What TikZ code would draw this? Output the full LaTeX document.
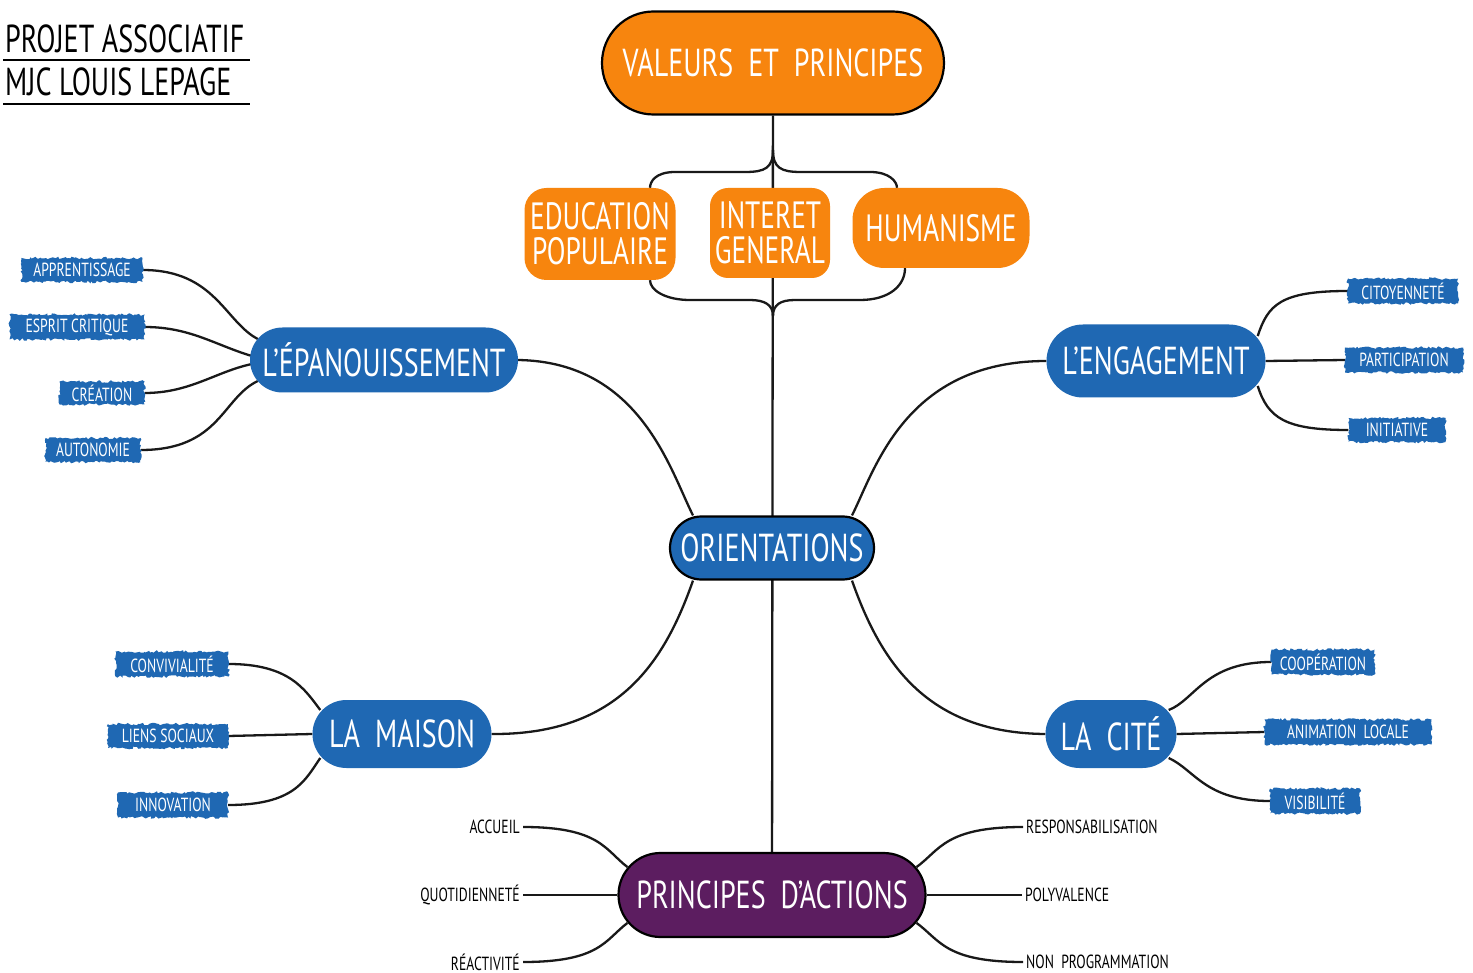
\documentclass[tikz,border=0pt]{standalone}
\usepackage{fontspec}
\setmainfont{PT Sans}[FakeStretch=0.72]
\usetikzlibrary{shapes.misc,decorations.pathmorphing,backgrounds,calc}
\pgfdeclarelayer{lines}
\pgfsetlayers{background,lines,main}
\definecolor{mjorange}{RGB}{247,133,14}
\definecolor{mjblue}{RGB}{31,104,179}
\definecolor{mjpurple}{RGB}{92,29,96}
\tikzset{
  bigtxt/.style={font=\fontsize{39}{40}\selectfont},
  mainblob/.style={rounded rectangle, fill=mjblue, text=white, inner sep=0pt, bigtxt},
  bordered/.style={draw=black, line width=2.2pt},
  orangebox/.style={rectangle, rounded corners=22pt, fill=mjorange, text=white, inner sep=0pt, align=center, font=\fontsize{38}{35}\selectfont},
  leaf/.style={rectangle, fill=mjblue, text=white, inner sep=0pt, font=\fontsize{19}{19}\selectfont, decorate, decoration={random steps, segment length=2pt, amplitude=1.3pt}},
  plainlbl/.style={text=black, font=\fontsize{19}{19}\selectfont, inner sep=3pt},
  titletxt/.style={text=black, font=\fontsize{39}{39}\selectfont, inner sep=0pt},
  link/.style={draw=black!90, line width=2.3pt},
}
\begin{document}
\begin{tikzpicture}[x=1pt,y=-1pt]
\pgfmathsetseed{7}
\begin{pgfonlayer}{background}
\fill[white] (0,0) rectangle (1473,973);
\end{pgfonlayer}
\useasboundingbox (0,0) rectangle (1473,973);

% title
\node[titletxt, anchor=base west] (t1) at (5,53) {PROJET\ ASSOCIATIF};
\node[titletxt, anchor=base west] (t2) at (5,96) {MJC\ LOUIS\ LEPAGE};
\coordinate (u1a) at (3,60); \coordinate (u1b) at (250,60);
\coordinate (u2a) at (3,104); \coordinate (u2b) at (250,104);
\draw[line width=2pt] (u1a) -- (u1b);
\draw[line width=2pt] (u2a) -- (u2b);

% main nodes
\node[rounded rectangle, fill=mjorange, text=white, bordered, inner sep=0pt,
      minimum width=342pt, minimum height=103pt, bigtxt] (val) at (773,63) {VALEURS\ \ ET\ \ PRINCIPES};
\node[orangebox, minimum width=151pt, minimum height=92pt] (edu) at (600,234) {EDUCATION\\POPULAIRE};
\node[orangebox, minimum width=120pt, minimum height=90pt, rounded corners=18pt] (int) at (770,233) {INTERET\\GENERAL};
\node[orangebox, minimum width=177pt, minimum height=80pt, rounded corners=32pt] (hum) at (941,228) {HUMANISME};

\node[mainblob, bordered, minimum width=204pt, minimum height=63pt] (ori) at (772,548) {ORIENTATIONS};
\node[mainblob, minimum width=268pt, minimum height=65pt] (epa) at (384,360) {L’ÉPANOUISSEMENT};
\node[mainblob, minimum width=219pt, minimum height=73pt] (eng) at (1156,361) {L’ENGAGEMENT};
\node[mainblob, minimum width=179pt, minimum height=68pt] (mai) at (402,734) {LA\ \ MAISON};
\node[mainblob, minimum width=131pt, minimum height=68pt] (cit) at (1111,734) {LA\ \ CITÉ};
\node[mainblob, fill=mjpurple, bordered, minimum width=307pt, minimum height=84pt] (pa) at (772,895) {PRINCIPES\ \ D’ACTIONS};

% leaves
\node[leaf, minimum width=121pt, minimum height=24pt] (appr) at (82,270) {APPRENTISSAGE};
\node[leaf, minimum width=135pt, minimum height=25pt] (esp) at (77,327) {ESPRIT\ CRITIQUE};
\node[leaf, minimum width=85pt, minimum height=23pt] (cre) at (102,393) {CRÉATION};
\node[leaf, minimum width=95pt, minimum height=24pt] (aut) at (93,450) {AUTONOMIE};

\node[leaf, minimum width=110pt, minimum height=25pt] (cito) at (1403,291) {CITOYENNETÉ};
\node[leaf, minimum width=118pt, minimum height=25pt] (part) at (1404,360) {PARTICIPATION};
\node[leaf, minimum width=97pt, minimum height=24pt] (init) at (1397,430) {INITIATIVE};

\node[leaf, minimum width=113pt, minimum height=25pt] (conv) at (172,664) {CONVIVIALITÉ};
\node[leaf, minimum width=120pt, minimum height=24pt] (lien) at (168,736) {LIENS\ SOCIAUX};
\node[leaf, minimum width=110pt, minimum height=25pt] (inno) at (173,805) {INNOVATION};

\node[leaf, minimum width=103pt, minimum height=25pt] (coop) at (1323,662) {COOPÉRATION};
\node[leaf, minimum width=167pt, minimum height=25pt] (anim) at (1348,732) {ANIMATION\ \ LOCALE};
\node[leaf, minimum width=90pt, minimum height=25pt] (vis) at (1315,801) {VISIBILITÉ};

\node[plainlbl, anchor=east] (acc) at (523,827) {ACCUEIL};
\node[plainlbl, anchor=east] (quo) at (523,895) {QUOTIDIENNETÉ};
\node[plainlbl, anchor=east] (rea) at (523,962) {RÉACTIVITÉ};
\node[plainlbl, anchor=west] (resp) at (1023,827) {RESPONSABILISATION};
\node[plainlbl, anchor=west] (poly) at (1022,895) {POLYVALENCE};
\node[plainlbl, anchor=west] (non) at (1023,962) {NON\ \ PROGRAMMATION};

\coordinate (split) at (773,150);
\coordinate (merge) at (773,316);

\begin{pgfonlayer}{lines}
  % trunk
  \draw[link] (val) -- (pa);
  % brace
  \draw[link] (split) .. controls (773,168) and (765,172) .. (745,172) -- (675,172)
        .. controls (655,172) and (650,182) .. (edu.north -| 650,0);
  \draw[link] (split) .. controls (773,168) and (781,172) .. (801,172) -- (870,172)
        .. controls (890,172) and (897,182) .. (hum.north -| 897,0);
  \draw[link] (edu.south -| 650,0) .. controls (650,290) and (665,300) .. (690,300) -- (750,300)
        .. controls (765,300) and (773,305) .. (merge);
  \draw[link] (hum.south -| 905,0) .. controls (905,285) and (890,300) .. (860,300) -- (795,300)
        .. controls (780,300) and (773,305) .. (merge);
  % orientations
  \draw[link] (epa.east) .. controls (640,362) and (670,470) .. (ori.north -| 693,0);
  \draw[link] (eng.west) .. controls (905,361) and (875,470) .. (ori.north -| 852,0);
  \draw[link] (ori.south -| 693,0) .. controls (665,660) and (620,735) .. (mai.east);
  \draw[link] (ori.south -| 852,0) .. controls (880,660) and (925,733) .. (cit.west);
  % epanouissement leaves
  \draw[link] (appr.east) .. controls (215,270) and (225,322) .. ($(epa.west)+(8,-21)$);
  \draw[link] (esp.east) .. controls (190,327) and (215,345) .. ($(epa.west)+(2,-4)$);
  \draw[link] (cre.east) .. controls (190,393) and (215,372) .. ($(epa.west)+(2,4)$);
  \draw[link] (aut.east) .. controls (220,450) and (222,398) .. ($(epa.west)+(8,21)$);
  % engagement leaves
  \draw[link] (cito.west) .. controls (1280,291) and (1268,305) .. ($(eng.east)+(-8,-25)$);
  \draw[link] (eng.east) -- (part.west);
  \draw[link] (init.west) .. controls (1285,430) and (1268,418) .. ($(eng.east)+(-8,25)$);
  % maison leaves
  \draw[link] (conv.east) .. controls (290,664) and (305,690) .. ($(mai.west)+(8,-24)$);
  \draw[link] (lien.east) -- (mai.west);
  \draw[link] (inno.east) .. controls (295,805) and (305,780) .. ($(mai.west)+(8,24)$);
  % cite leaves
  \draw[link] (coop.west) .. controls (1205,662) and (1195,700) .. ($(cit.east)+(-8,-24)$);
  \draw[link] (cit.east) -- (anim.west);
  \draw[link] (vis.west) .. controls (1205,801) and (1195,770) .. ($(cit.east)+(-8,24)$);
  % principes leaves
  \draw[link] (acc.east) .. controls (600,827) and (605,850) .. ($(pa.west)+(10,-28)$);
  \draw[link] (quo.east) -- (pa.west);
  \draw[link] (rea.east) .. controls (600,962) and (605,940) .. ($(pa.west)+(10,28)$);
  \draw[link] (resp.west) .. controls (945,827) and (940,850) .. ($(pa.east)+(-10,-28)$);
  \draw[link] (poly.west) -- (pa.east);
  \draw[link] (non.west) .. controls (945,962) and (940,940) .. ($(pa.east)+(-10,28)$);
\end{pgfonlayer}
\end{tikzpicture}
\end{document}
